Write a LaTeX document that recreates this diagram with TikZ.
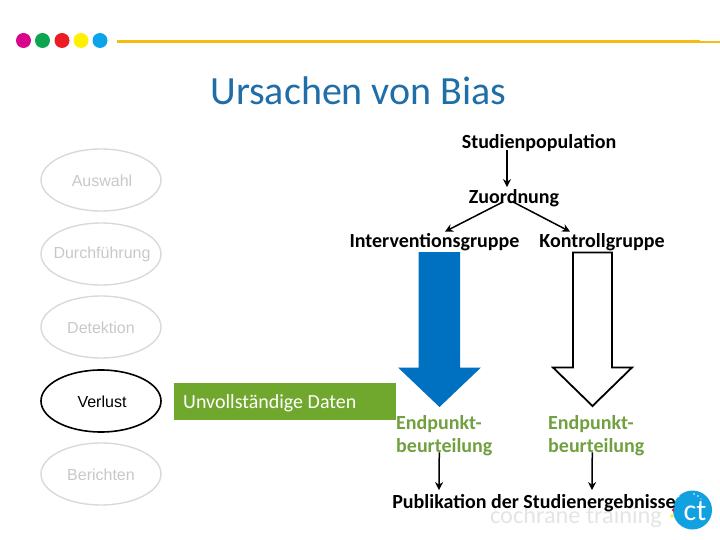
\documentclass[tikz,border=0pt]{standalone}
\usepackage{fontspec}
\setmainfont{Carlito}
\newfontfamily\arialf{Liberation Sans}
\usetikzlibrary{shapes.geometric,arrows.meta}
\definecolor{titleblue}{HTML}{1F6EA8}
\definecolor{linegold}{HTML}{F5BD14}
\definecolor{dotpink}{HTML}{D9058C}
\definecolor{dotgreen}{HTML}{0EA550}
\definecolor{dotred}{HTML}{EC1C24}
\definecolor{dotyellow}{HTML}{FFF200}
\definecolor{dotblue}{HTML}{0BA4E8}
\definecolor{arrowblue}{HTML}{0070C0}
\definecolor{boxgreen}{HTML}{70A82E}
\definecolor{txtgreen}{HTML}{70A040}
\definecolor{palegrey}{HTML}{D9D9D9}
\definecolor{midgrey}{HTML}{C8C8C8}
\definecolor{trainingrey}{HTML}{E4E4E4}
\definecolor{logoblue}{HTML}{11A0E0}
\tikzset{
  x=1pt,y=-1pt,
  dotmark/.style={circle,minimum size=15pt,inner sep=0pt},
  bias/.style={ellipse,minimum width=120pt,minimum height=62pt,inner sep=0pt,draw=palegrey,line width=1.4pt},
  biastext/.style={inner sep=0pt,text=midgrey,font=\arialf\fontsize{16}{19}\selectfont},
  lab/.style={inner sep=0pt,font=\bfseries\fontsize{20}{24}\selectfont},
  endtext/.style={inner sep=0pt,align=left,text=txtgreen,font=\bfseries\fontsize{20}{23.5}\selectfont},
  conn/.style={line width=1.5pt,-{Stealth[length=8pt,width=8pt]}},
}
\begin{document}
\begin{tikzpicture}
\useasboundingbox (0,0) rectangle (720,540);
% header
\node[dotmark,fill=dotpink] (d1) at (23.5,40.5) {};
\node[dotmark,fill=dotgreen] (d2) at (42.5,40.5) {};
\node[dotmark,fill=dotred] (d3) at (62,40.5) {};
\node[dotmark,fill=dotyellow] (d4) at (81,40.5) {};
\node[dotmark,fill=dotblue] (d5) at (100,40.5) {};
\fill[linegold] (117,40) rectangle (700,43.5);
\fill[linegold] (700,41.5) rectangle (720,43.5);
\node[inner sep=0pt,text=titleblue,font=\fontsize{40}{46}\selectfont] (title) at (358.5,91) {Ursachen von Bias};
% ellipses
\node[bias] (auswahl) at (101,180) {};
\node[bias] (durch) at (101,254) {};
\node[bias] (detek) at (101,327) {};
\node[bias,draw=black,line width=1.6pt] (verlust) at (101,401) {};
\node[bias] (bericht) at (101,474) {};
\node[biastext] (t1) at (102,181) {Auswahl};
\node[biastext] (t2) at (102,254.5) {Durchführung};
\node[biastext] (t3) at (101,328) {Detektion};
\node[biastext,text=black] (t4) at (102,402) {Verlust};
\node[biastext] (t5) at (101,475) {Berichten};
% green box
\node[fill=boxgreen,minimum width=222pt,minimum height=36.5pt,inner sep=0pt] (box) at (285,401.5) {};
\node[anchor=west,inner sep=0pt,text=white,font=\fontsize{20}{24}\selectfont] (boxt) at (183,403.5) {Unvollständige Daten};
% block arrows
\fill[arrowblue] (418.5,252) -- (460,252) -- (460,367.5) -- (481,367.5) -- (439.5,407) -- (398,367.5) -- (418.5,367.5) -- cycle;
\draw[black,line width=1.8pt,fill=white,line join=miter] (573,252.5) -- (612,252.5) -- (612,367.5) -- (632,367.5) -- (592.5,406) -- (553,367.5) -- (573,367.5) -- cycle;
% logo & footer
\node[inner sep=0pt,text=trainingrey,font=\fontsize{24.3}{28}\selectfont] (train) at (576,517) {cochrane training};
\node[circle,fill=logoblue,minimum size=39pt,inner sep=0pt] (logo) at (692.5,510) {};
\draw[white,line width=1.2pt] (679,497) arc[start angle=130,end angle=230,radius=18];
\node[inner sep=0pt,text=white,font=\fontsize{30}{30}\selectfont] (logot) at (695,511) {ct};
\fill[white] (694,494) circle[radius=0.8] (698,496) circle[radius=0.8] (701,499) circle[radius=0.7];
\fill[dotyellow] (672,516) circle[radius=1.8];
\fill[dotred] (673,510) circle[radius=1.5];
% labels
\node[lab] (stud) at (539,143) {Studienpopulation};
\node[lab] (zuord) at (514,198) {Zuordnung};
\node[lab] (interv) at (434.5,242) {Interventionsgruppe};
\node[lab] (kontr) at (602,242) {Kontrollgruppe};
\node[endtext,anchor=north west] (ep1) at (396,415) {Endpunkt-\\beurteilung};
\node[endtext,anchor=north west] (ep2) at (548,415) {Endpunkt-\\beurteilung};
\node[lab] (publ) at (534,503) {Publikation der Studienergebnisse};
% connectors
\draw[conn] ([xshift=-32pt,yshift=2pt]stud.south) -- ([xshift=-7pt,yshift=2pt]zuord.north);
\draw[conn] ([xshift=-11pt,yshift=5pt]zuord.south) -- ([xshift=10.5pt,yshift=1.5pt]interv.north);
\draw[conn] ([xshift=-1pt,yshift=5pt]zuord.south) -- ([xshift=-32pt,yshift=1.5pt]kontr.north);
\draw[conn] ([xshift=-5pt,yshift=4pt]ep1.south) -- ([xshift=-95pt,yshift=4pt]publ.north);
\draw[conn] ([xshift=-4pt,yshift=4pt]ep2.south) -- ([xshift=58pt,yshift=4pt]publ.north);
\end{tikzpicture}
\end{document}
